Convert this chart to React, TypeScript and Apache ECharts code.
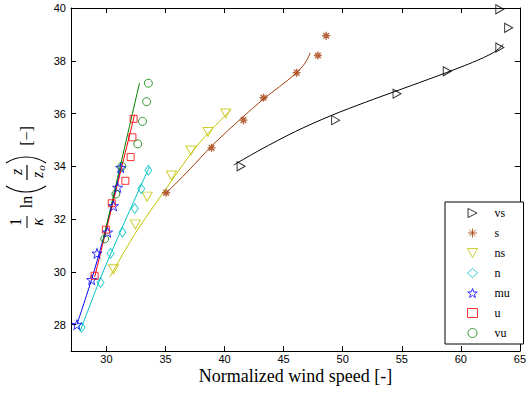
import React, { useEffect, useRef } from 'react';
import * as echarts from 'echarts';

// ---- data ----
const vsPoints = [[41.4, 34.0], [49.4, 35.75], [54.6, 36.75], [58.85, 37.6], [63.3, 38.5], [64.05, 39.25], [63.3, 39.95]];
const sPoints = [[35.05, 33.0], [38.9, 34.7], [41.6, 35.75], [43.3, 36.6], [46.1, 37.55], [47.9, 38.2], [48.6, 38.95]];
const nsPoints = [[30.6, 30.1], [32.45, 31.8], [33.45, 32.85], [35.5, 33.65], [37.15, 34.6], [38.6, 35.3], [40.1, 36.0]];
const nPoints = [[27.9, 27.9], [29.5, 29.6], [30.35, 30.7], [31.35, 31.5], [32.4, 32.4], [32.95, 33.15], [33.55, 33.85]];
const muPoints = [[27.5, 28.0], [28.75, 29.7], [29.2, 30.7], [30.1, 31.5], [30.6, 32.5], [30.95, 33.2], [31.2, 33.95]];
const uPoints = [[29.0, 29.85], [29.95, 31.6], [30.45, 32.6], [31.6, 33.45], [32.05, 34.35], [32.2, 35.1], [32.3, 35.8]];
const vuPoints = [[29.85, 31.25], [30.8, 32.95], [31.3, 34.0], [32.65, 34.85], [33.05, 35.7], [33.4, 36.45], [33.55, 37.15]];

const vsFit = [[40.78, 34.05], [43, 34.62], [46, 35.32], [49, 35.92], [52, 36.44], [55, 36.93], [58, 37.42], [61, 37.94], [62.8, 38.32], [63.6, 38.62]];
const sFit = [[35.07, 32.99], [37.0, 33.86], [38.93, 34.78], [41.45, 35.83], [43.3, 36.55], [45.99, 37.5], [46.83, 37.92], [47.25, 38.3]];
const nsFit = [[30.28, 29.8], [32.5, 31.5], [35.2, 33.25], [37.8, 34.85], [40.53, 36.14]];
const nFit = [[27.76, 27.73], [29.44, 29.7], [31.5, 31.85], [33.64, 33.98]];
const muFit = [[27.5, 28.0], [28.75, 29.72], [29.7, 31.2], [30.5, 32.6], [31.25, 34.0]];
const uFit = [[29.0, 29.8], [32.38, 35.95]];
const vuFit = [[29.69, 31.14], [32.8, 37.16]];

const xTicks = [30, 35, 40, 45, 50, 55, 60, 65];
const yTicks = [28, 30, 32, 34, 36, 38, 40];
const names = ['vs', 's', 'ns', 'n', 'mu', 'u', 'vu'];

const TRI_RIGHT = 'path://M0,0L10,5L0,10Z';
const TRI_DOWN = 'path://M0,0L10,0L5,9Z';
const STAR = 'path://M0,-10L2.35,-3.24L9.51,-3.09L3.8,1.24L5.88,8.09L0,4L-5.88,8.09L-3.8,1.24L-9.51,-3.09L-2.35,-3.24Z';
const AST = 'path://M0,-5L0,5M-5,0L5,0M-3.5,-3.5L3.5,3.5M-3.5,3.5L3.5,-3.5';

const SERIF = '"Liberation Serif", "DejaVu Serif", serif';
const SANS = '"Liberation Sans", Arial, sans-serif';

// parenthesis arc geometry (half chord 20, sagitta 6)
const PR = (20 * 20 + 6 * 6) / (2 * 6);
const PA = Math.asin(20 / PR);

export default function App() {
  const ref = useRef<HTMLDivElement>(null);
  useEffect(() => {
    document.body.style.margin = '0';
    if (!ref.current) return;
    const chart = echarts.init(ref.current, null, { renderer: 'svg' });

    const colors: Record<string, string> = {
      vs: '#000000', s: '#a33d0b', ns: '#c2c200', n: '#00c0c0', mu: '#0000ff', u: '#ff0000', vu: '#008000',
    };
    const pts: Record<string, number[][]> = { vs: vsPoints, s: sPoints, ns: nsPoints, n: nPoints, mu: muPoints, u: uPoints, vu: vuPoints };
    const fits: Record<string, number[][]> = { vs: vsFit, s: sFit, ns: nsFit, n: nFit, mu: muFit, u: uFit, vu: vuFit };
    const sym: Record<string, any> = {
      vs: { symbol: TRI_RIGHT, symbolSize: [8, 9] },
      s: { symbol: AST, symbolSize: [8, 8] },
      ns: { symbol: TRI_DOWN, symbolSize: [10, 9] },
      n: { symbol: 'diamond', symbolSize: [7, 10] },
      mu: { symbol: STAR, symbolSize: [10, 10] },
      u: { symbol: 'rect', symbolSize: [7, 7] },
      vu: { symbol: 'circle', symbolSize: [8, 8] },
    };

    const lineOrder = ['mu', 'n', 'ns', 's', 'vs', 'u', 'vu'];
    const lineSeries = lineOrder.map((k) => ({
      type: 'line',
      name: k + ' fit',
      data: fits[k],
      smooth: 0.3,
      showSymbol: false,
      symbol: 'none',
      silent: true,
      lineStyle: { color: colors[k], width: 1 },
      z: 2,
    }));
    const scatterSeries = names.map((k) => ({
      type: 'scatter',
      name: k,
      data: pts[k],
      symbol: sym[k].symbol,
      symbolSize: sym[k].symbolSize,
      itemStyle: { color: 'rgba(0,0,0,0)', borderColor: colors[k], borderWidth: k === 's' ? 1.4 : 1 },
      z: 3,
    }));

    const axisLine = { show: true, onZero: false, lineStyle: { color: '#000', width: 1 } };
    const tickStyle = { color: '#000', width: 1 };
    const txt = (x: number, y: number, text: string, font: string) => ({
      type: 'text', x, y, style: { text, font, fill: '#000', align: 'center', verticalAlign: 'middle' },
    });

    const option: any = {
      animation: false,
      backgroundColor: '#fff',
      grid: { left: 71, right: 6, top: 8, bottom: 45, containLabel: false },
      xAxis: [
        {
          type: 'value', min: 27, max: 65, position: 'bottom',
          axisLine,
          axisTick: { show: true, inside: true, length: 5, customValues: xTicks, lineStyle: tickStyle },
          axisLabel: { customValues: xTicks, color: '#000', fontSize: 11, fontFamily: SANS, margin: 2, lineHeight: 12 },
          splitLine: { show: false },
          name: 'Normalized wind speed [-]', nameLocation: 'middle', nameGap: 18, nameMoveOverlap: false,
          nameTextStyle: { fontFamily: SERIF, fontSize: 18, color: '#000', verticalAlign: 'top', lineHeight: 14 },
        },
        {
          type: 'value', min: 27, max: 65, position: 'top',
          axisLine,
          axisTick: { show: true, inside: true, length: 5, customValues: xTicks, lineStyle: tickStyle },
          axisLabel: { show: false },
          splitLine: { show: false },
        },
      ],
      yAxis: [
        {
          type: 'value', min: 27, max: 40, position: 'left',
          axisLine,
          axisTick: { show: true, inside: true, length: 5, customValues: yTicks, lineStyle: tickStyle },
          axisLabel: { customValues: yTicks, color: '#000', fontSize: 11, fontFamily: SANS, margin: 5 },
          splitLine: { show: false },
        },
        {
          type: 'value', min: 27, max: 40, position: 'right',
          axisLine,
          axisTick: { show: true, inside: true, length: 5, customValues: yTicks, lineStyle: tickStyle },
          axisLabel: { show: false },
          splitLine: { show: false },
        },
      ],
      legend: {
        data: names,
        orient: 'vertical',
        left: 445,
        top: 202,
        itemWidth: 10,
        itemHeight: 9,
        itemGap: 8,
        padding: [5, 9, 5, 22],
        borderColor: '#000',
        borderWidth: 1,
        backgroundColor: '#fff',
        selectedMode: false,
        itemStyle: { borderWidth: 1 },
        textStyle: { fontFamily: SERIF, fontSize: 12, color: '#000', lineHeight: 12, width: 20, padding: [0, 0, 0, 12] },
      },
      graphic: [
        {
          type: 'group',
          x: 27,
          y: 180,
          rotation: Math.PI / 2,
          silent: true,
          children: [
            txt(-42, -12, '1', '16px ' + SERIF),
            { type: 'line', shape: { x1: -48, y1: 0, x2: -36, y2: 0 }, style: { stroke: '#000', lineWidth: 1 } },
            txt(-42, 10, 'κ', 'italic 16px ' + SERIF),
            txt(-22, -1, 'ln', '16px ' + SERIF),
            {
              type: 'arc',
              shape: { cx: -12 + PR, cy: -1, r: PR, startAngle: Math.PI - PA, endAngle: Math.PI + PA, clockwise: true },
              style: { stroke: '#000', lineWidth: 1.2, fill: 'none' },
            },
            txt(8, -11, 'z', 'italic 16px ' + SERIF),
            { type: 'line', shape: { x1: 0, y1: 0, x2: 15, y2: 0 }, style: { stroke: '#000', lineWidth: 1.2 } },
            txt(5, 10, 'z', 'italic 16px ' + SERIF),
            txt(12, 14, 'o', 'italic 11px ' + SERIF),
            {
              type: 'arc',
              shape: { cx: 23 - PR, cy: -1, r: PR, startAngle: -PA, endAngle: PA, clockwise: true },
              style: { stroke: '#000', lineWidth: 1.2, fill: 'none' },
            },
            txt(44, -1, '[\u2212]', '16px ' + SERIF),
          ],
        },
      ],
      series: [...lineSeries, ...scatterSeries],
    };
    chart.setOption(option);
    return () => chart.dispose();
  }, []);
  return <div ref={ref} style={{ position: 'absolute', left: 0, top: 0, width: 529, height: 396 }} />;
}
